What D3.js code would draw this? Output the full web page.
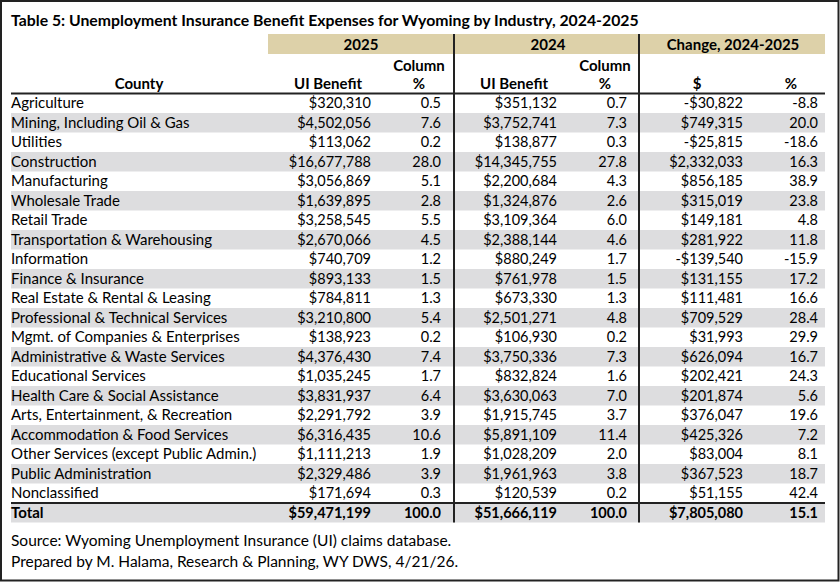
<!DOCTYPE html>
<html>
<head>
<meta charset="utf-8">
<script src="https://cdn.jsdelivr.net/npm/d3@7"></script>
<style>
  html, body { margin: 0; padding: 0; background: #fff; }
  #table5 { width: 840px; height: 582px; }
  svg text { font-family: Lato, "Open Sans", sans-serif; fill: #000; }
</style>
</head>
<body>
<div id="table5"></div>
<script>
// Tabla 5 — gastos de beneficios UI por industria, Wyoming 2024-2025

// === Datos ===
const industries = [
  "Agriculture", "Mining, Including Oil & Gas", "Utilities", "Construction",
  "Manufacturing", "Wholesale Trade", "Retail Trade", "Transportation & Warehousing",
  "Information", "Finance & Insurance", "Real Estate & Rental & Leasing",
  "Professional & Technical Services", "Mgmt. of Companies & Enterprises",
  "Administrative & Waste Services", "Educational Services",
  "Health Care & Social Assistance", "Arts, Entertainment, & Recreation",
  "Accommodation & Food Services", "Other Services (except Public Admin.)",
  "Public Administration", "Nonclassified"
];
const benefit2025 = [320310, 4502056, 113062, 16677788, 3056869, 1639895, 3258545, 2670066,
  740709, 893133, 784811, 3210800, 138923, 4376430, 1035245, 3831937, 2291792, 6316435,
  1111213, 2329486, 171694];
const pct2025 = [0.5, 7.6, 0.2, 28.0, 5.1, 2.8, 5.5, 4.5, 1.2, 1.5, 1.3, 5.4, 0.2, 7.4,
  1.7, 6.4, 3.9, 10.6, 1.9, 3.9, 0.3];
const benefit2024 = [351132, 3752741, 138877, 14345755, 2200684, 1324876, 3109364, 2388144,
  880249, 761978, 673330, 2501271, 106930, 3750336, 832824, 3630063, 1915745, 5891109,
  1028209, 1961963, 120539];
const pct2024 = [0.7, 7.3, 0.3, 27.8, 4.3, 2.6, 6.0, 4.6, 1.7, 1.5, 1.3, 4.8, 0.2, 7.3,
  1.6, 7.0, 3.7, 11.4, 2.0, 3.8, 0.2];
const changeDollar = [-30822, 749315, -25815, 2332033, 856185, 315019, 149181, 281922,
  -139540, 131155, 111481, 709529, 31993, 626094, 202421, 201874, 376047, 425326,
  83004, 367523, 51155];
const changePct = [-8.8, 20.0, -18.6, 16.3, 38.9, 23.8, 4.8, 11.8, -15.9, 17.2, 16.6, 28.4,
  29.9, 16.7, 24.3, 5.6, 19.6, 7.2, 8.1, 18.7, 42.4];
const totalRow = ["Total", 59471199, 100.0, 51666119, 100.0, 7805080, 15.1];

const groupLabels = ["2025", "2024", "Change, 2024-2025"];
const title = "Table 5: Unemployment Insurance Benefit Expenses for Wyoming by Industry, 2024-2025";
const notes = [
  "Source: Wyoming Unemployment Insurance (UI) claims database.",
  "Prepared by M. Halama, Research & Planning, WY DWS, 4/21/26."
];

// === Formatos (guion normal, no signo menos unicode) ===
const loc = d3.formatLocale({ decimal: ".", thousands: ",", grouping: [3], currency: ["$", ""], minus: "-" });
const fmtMoney = loc.format("$,.0f");
const fmtPct = loc.format(".1f");

const rows = industries.map((name, i) => [name, benefit2025[i], pct2025[i], benefit2024[i], pct2024[i], changeDollar[i], changePct[i]]);
rows.push(totalRow);

// === Render ===
const W = 840, H = 582;
const FONT = 14.5;
const svg = d3.select("#table5").append("svg").attr("width", W).attr("height", H);

const X0 = 11, X1 = 825;
const y = d3.scaleBand().domain(d3.range(rows.length)).range([93.5, 522.5]);

// columnas: posición x del borde derecho de cada valor
const cols = [
  { x: 11,  anchor: "start", f: d => d, size: 15 },
  { x: 371, anchor: "end",   f: fmtMoney, size: FONT },
  { x: 441, anchor: "end",   f: fmtPct, size: FONT },
  { x: 557, anchor: "end",   f: fmtMoney, size: FONT },
  { x: 627, anchor: "end",   f: fmtPct, size: FONT },
  { x: 743, anchor: "end",   f: fmtMoney, size: FONT },
  { x: 818, anchor: "end",   f: fmtPct, size: FONT }
];

// marco
svg.append("rect").attr("x", 1).attr("y", 1).attr("width", W - 2.5).attr("height", H - 2.5)
  .attr("fill", "none").attr("stroke", "#222").attr("stroke-width", 2);

svg.append("text").attr("x", 11).attr("y", 26)
  .attr("font-size", 15.8).attr("font-weight", "bold").text(title);

// banda de grupos
svg.append("rect").attr("x", 268).attr("y", 34).attr("width", X1 - 268).attr("height", 20)
  .attr("fill", "#ddd1a9");
const groupCenters = [361, 548, 733];
svg.append("g").selectAll("text").data(groupLabels).join("text")
  .attr("x", (d, i) => groupCenters[i]).attr("y", 49.5)
  .attr("text-anchor", "middle").attr("font-size", 15).attr("font-weight", "bold")
  .text(d => d);

// filas sombreadas
svg.append("g").selectAll("rect").data(rows.filter((r, i) => i % 2 === 1))
  .join("rect")
    .attr("x", X0).attr("width", X1 - X0)
    .attr("y", d => y(rows.indexOf(d))).attr("height", y.bandwidth())
    .attr("fill", "#dddddf");

// encabezados de columna
const hdr = svg.append("g").attr("font-size", 15).attr("font-weight", "bold");
const hdrs = [
  { t: "County", x: 139, a: "middle", yy: 89 },
  { t: "UI Benefit", x: 362, a: "end", yy: 89 },
  { t: "Column", x: 419, a: "middle", yy: 70.5 },
  { t: "%", x: 419, a: "middle", yy: 89 },
  { t: "UI Benefit", x: 548, a: "end", yy: 89 },
  { t: "Column", x: 605, a: "middle", yy: 70.5 },
  { t: "%", x: 605, a: "middle", yy: 89 },
  { t: "$", x: 697, a: "middle", yy: 89 },
  { t: "%", x: 791, a: "middle", yy: 89 }
];
hdr.selectAll("text").data(hdrs).join("text")
  .attr("x", d => d.x).attr("y", d => d.yy).attr("text-anchor", d => d.a).text(d => d.t);

// celdas
const rowG = svg.append("g").selectAll("g").data(rows).join("g")
  .attr("transform", (d, i) => `translate(0,${y(i) + y.bandwidth() / 2 + 5})`)
  .attr("font-weight", (d, i) => i === rows.length - 1 ? "bold" : null);
rowG.selectAll("text").data(d => d).join("text")
  .attr("x", (d, j) => cols[j].x)
  .attr("text-anchor", (d, j) => cols[j].anchor)
  .attr("font-size", (d, j) => cols[j].size)
  .text((d, j) => cols[j].f(d));

// reglas
svg.append("line").attr("x1", X0).attr("x2", X1).attr("y1", y(0)).attr("y2", y(0))
  .attr("stroke", "#222").attr("stroke-width", 2);
const totY = y(rows.length - 1);
svg.append("line").attr("x1", X0).attr("x2", X1).attr("y1", totY).attr("y2", totY)
  .attr("stroke", "#222").attr("stroke-width", 2);
[454, 639].forEach(x => {
  svg.append("line").attr("x1", x).attr("x2", x).attr("y1", 34).attr("y2", y.range()[1])
    .attr("stroke", "#222").attr("stroke-width", 2);
});

// notas
svg.append("g").selectAll("text").data(notes).join("text")
  .attr("x", 11).attr("y", (d, i) => 546 + i * 21)
  .attr("font-size", 15.5).text(d => d);
</script>
</body>
</html>
